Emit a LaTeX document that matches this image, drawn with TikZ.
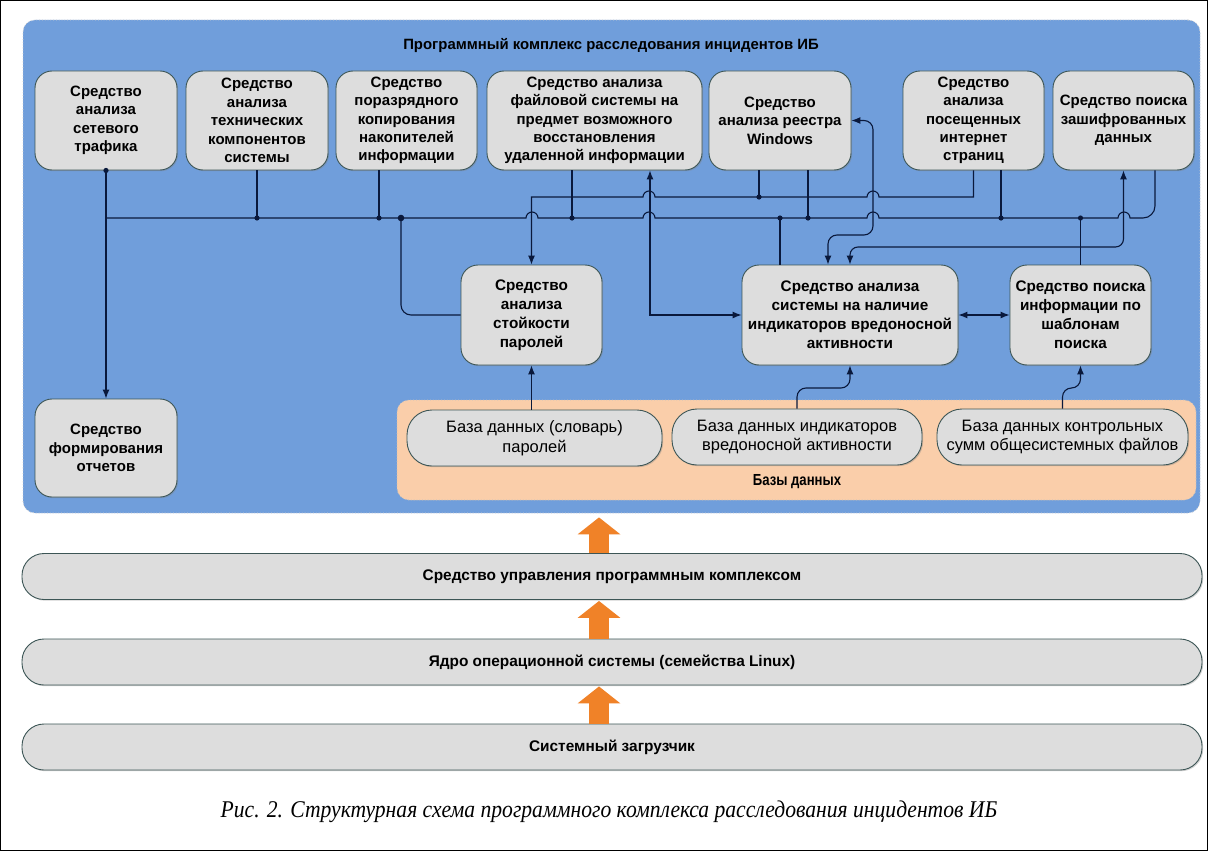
\documentclass[tikz,border=0pt]{standalone}
\usepackage{fontspec}
\setmainfont{Liberation Sans}
\newfontfamily\narrowfont[FakeStretch=0.82]{Liberation Sans}
\newfontfamily\capfont[FakeStretch=0.9]{Liberation Serif}
\usetikzlibrary{arrows.meta,shadows}
\definecolor{bluebg}{RGB}{112,158,219}
\definecolor{boxfill}{RGB}{221,221,221}
\definecolor{boxline}{RGB}{60,85,85}
\definecolor{peach}{RGB}{250,206,170}
\definecolor{wirec}{RGB}{10,25,60}
\definecolor{orangearr}{RGB}{240,130,40}
\begin{document}
\begin{tikzpicture}[x=1pt,y=-1pt,
  wire/.style={draw=wirec, line width=1.1pt},
  tip/.style={-{Latex[length=9pt,width=7pt]}},
  tips/.style={{Latex[length=9pt,width=7pt]}-{Latex[length=9pt,width=7pt]}},
  rtip/.style={{Latex[length=9pt,width=7pt]}-},
  box/.style={draw=boxline, fill=boxfill, line width=0.9pt, rounded corners=17pt, align=center, inner sep=1pt,
    font=\bfseries\fontsize{15}{18.4}\selectfont,
    drop shadow={shadow xshift=1.2pt,shadow yshift=-1.2pt,opacity=0.35}},
  midbox/.style={box, font=\bfseries\fontsize{15.3}{19}\selectfont},
  dbbox/.style={box, rounded corners=25pt, font=\fontsize{16.5}{19.5}\selectfont, minimum height=56pt},
  bar/.style={box, rounded corners=22pt, minimum width=1180pt, minimum height=46pt,
    font=\bfseries\fontsize{15.4}{18}\selectfont},
  region/.style={line width=0.8pt, dotted, rounded corners=12pt},
  bigarrow/.style={draw=orangearr, line width=20pt, -{Triangle[length=17pt,width=42pt]}},
  dot/.style={fill=wirec}
]
\useasboundingbox (0,0) rectangle (1208,851);
\fill[white] (0,0) rectangle (1208,851);

% regions
\node[region, fill=bluebg, draw=gray!40, minimum width=1177pt, minimum height=493pt] (ib) at (611.5,266.5) {};
\node[font=\bfseries\fontsize{14.9}{17}\selectfont] (title) at (611,46) {Программный комплекс расследования инцидентов ИБ};
\node[region, fill=peach, draw=gray!50, minimum width=799pt, minimum height=100pt] (dbr) at (796.5,450) {};
\node[font=\narrowfont\bfseries\fontsize{16}{18}\selectfont] (dbl) at (797,482) {Базы данных};

% top row
\node[box, minimum width=142pt, minimum height=99pt] (b1) at (106,120.5) {Средство\\анализа\\сетевого\\трафика};
\node[box, minimum width=142pt, minimum height=99pt] (b2) at (257,120.5) {Средство\\анализа\\технических\\компонентов\\системы};
\node[box, minimum width=141pt, minimum height=99pt] (b3) at (406.5,120.5) {Средство\\поразрядного\\копирования\\накопителей\\информации};
\node[box, minimum width=215pt, minimum height=99pt] (b4) at (594.5,120.5) {Средство анализа\\файловой системы на\\предмет возможного\\восстановления\\удаленной информации};
\node[box, minimum width=142pt, minimum height=99pt] (b5) at (780,120.5) {Средство\\анализа реестра\\Windows};
\node[box, minimum width=141pt, minimum height=99pt] (b6) at (973.5,120.5) {Средство\\анализа\\посещенных\\интернет\\страниц};
\node[box, minimum width=141pt, minimum height=99pt] (b7) at (1123.5,120.5) {Средство поиска\\зашифрованных\\данных};

% middle row
\node[midbox, minimum width=141pt, minimum height=100pt] (b8) at (531.5,315) {Средство\\анализа\\стойкости\\паролей};
\node[midbox, minimum width=216pt, minimum height=100pt] (b9) at (850,315) {Средство анализа\\системы на наличие\\индикаторов вредоносной\\активности};
\node[midbox, minimum width=141pt, minimum height=100pt] (b10) at (1080.5,315) {Средство поиска\\информации по\\шаблонам\\поиска};
\node[box, minimum width=142pt, minimum height=98pt] (b11) at (106,448) {Средство\\формирования\\отчетов};

% databases
\node[dbbox, minimum width=255pt] (db1) at (534.5,438) {База данных (словарь)\\паролей};
\node[dbbox, minimum width=250pt] (db2) at (797,437) {База данных индикаторов\\вредоносной активности};
\node[dbbox, minimum width=251pt] (db3) at (1062.5,437) {База данных контрольных\\сумм общесистемных файлов};

% bars
\node[bar] (bar1) at (612,576.5) {Средство управления программным комплексом};
\node[bar] (bar2) at (612,662) {Ядро операционной системы (семейства Linux)};
\node[bar] (bar3) at (612,747) {Системный загрузчик};

% orange arrows
\coordinate (ax1) at ([xshift=-13pt]bar1.north);
\coordinate (ax1s) at ([xshift=-13pt]bar1.south);
\coordinate (ax2) at ([xshift=-13pt]bar2.north);
\coordinate (ax2s) at ([xshift=-13pt]bar2.south);
\coordinate (ax3) at ([xshift=-13pt]bar3.north);
\draw[bigarrow, shorten >=4pt] (ax1) -- (ax1 |- ib.south);
\draw[bigarrow, shorten >=1pt] (ax2) -- (ax1s);
\draw[bigarrow, shorten >=1pt] (ax3) -- (ax2s);

% helper coordinates
\coordinate (yA) at (0,218);
\coordinate (yB) at (0,197);
\coordinate (yW) at (0,235);
\coordinate (yE) at (0,247);
\coordinate (yD) at (0,388);
\coordinate (xW) at (873,0);
\coordinate (s3) at ([xshift=-27.5pt]b3.south);
\coordinate (s4a) at ([xshift=-22.5pt]b4.south);
\coordinate (s4b) at ([xshift=55.5pt]b4.south);
\coordinate (s5a) at ([xshift=-21pt]b5.south);
\coordinate (s5b) at ([xshift=28pt]b5.south);
\coordinate (s6b) at ([xshift=27.5pt]b6.south);
\coordinate (s7b) at ([xshift=31.5pt]b7.south);
\coordinate (n9a) at ([xshift=-70pt]b9.north);
\coordinate (n9b) at ([xshift=-22pt]b9.north);
\coordinate (j401) at (401,218);

% bus A
\draw[wire] (b1.south |- yA) -- (526,218) arc[start angle=180,end angle=360,radius=6]
  -- (643,218) arc[start angle=180,end angle=360,radius=6]
  -- (867,218) arc[start angle=180,end angle=360,radius=6]
  -- (1118,218) arc[start angle=180,end angle=360,radius=6]
  -- (1143,218) arc[start angle=90,end angle=0,radius=12] -- (s7b);
% bus B
\draw[wire, rtip] (b8.north) -- (b8.north |- yB) -- (643,197) arc[start angle=180,end angle=360,radius=6]
  -- (867,197) arc[start angle=180,end angle=360,radius=6]
  -- (b6.south |- yB) -- (b6.south);

% connectors
\draw[wire, tip] (b1.south) -- (b11.north);
\draw[wire] (b2.south) -- (b2.south |- yA);
\draw[wire] (s3) -- (s3 |- yA);
\draw[wire] (s4a) -- (s4a |- yA);
\draw[wire, tips] (s4b) -- (s4b |- b9.west) -- (b9.west);
\draw[wire] (s5a) -- (s5a |- yB);
\draw[wire] (s5b) -- (s5b |- yA);
\draw[wire] (s6b) -- (s6b |- yA);
\draw[wire, rounded corners=10pt] (j401) -- (j401 |- b8.west) -- (b8.west);
\draw[wire] (n9a |- yA) -- (n9a);
\draw[wire, tips, rounded corners=9pt] (b5.east) -- (xW |- b5.east) -- (xW |- yW) -- (n9b |- yW) -- (n9b);
\draw[wire, tips, rounded corners=8pt] (b7.south) -- (b7.south |- yE) -- (b9.north |- yE) -- (b9.north);
\draw[wire] (b10.north |- yA) -- (b10.north);
\draw[wire, tips] (b9.east) -- (b10.west);
\draw[wire, tip] (b8.south |- db1.north) -- (b8.south);
\draw[wire, tip, rounded corners=9pt] (db2.north) -- (db2.north |- yD) -- (b9.south |- yD) -- (b9.south);
\draw[wire, tip, rounded corners=9pt] (db3.north) -- (db3.north |- yD) -- (b10.south |- yD) -- (b10.south);

% dots
\foreach \p in {(b1.south),(b2.south |- yA),(s3 |- yA),(s4a |- yA),(s5a |- yB),(n9a |- yA),(s5b |- yA),(s6b |- yA),(b10.north |- yA)}
  \fill[dot] \p circle[radius=2.6pt];
\fill[dot] (j401) circle[radius=3.3pt];

% caption
\node[font=\capfont\itshape\fontsize{24}{28}\selectfont] (cap) at (609,812) {Рис. 2. Структурная схема программного комплекса расследования инцидентов ИБ};

% frame
\draw[line width=1.3pt] (0.65,0.65) rectangle (1207.35,850.35);
\end{tikzpicture}
\end{document}
